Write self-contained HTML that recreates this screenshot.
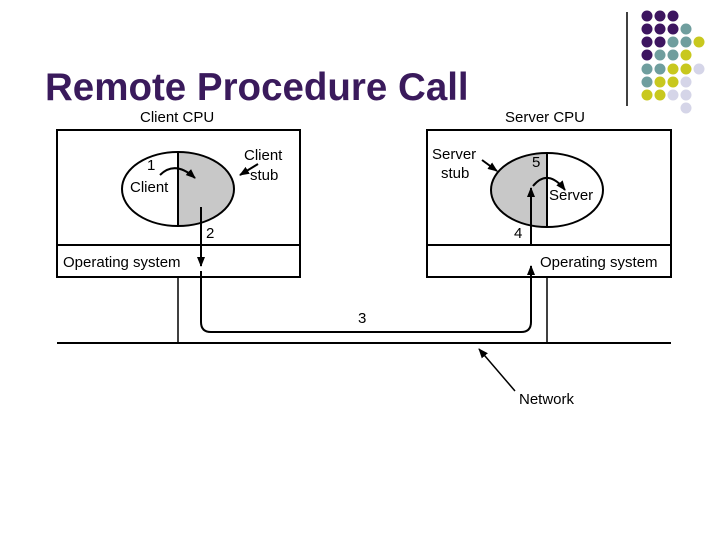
<!DOCTYPE html>
<html><head><style>
body{margin:0;width:720px;height:540px;background:#fff;overflow:hidden;position:relative;font-family:"Liberation Sans",sans-serif}
</style></head><body>
<svg width="720" height="540" style="position:absolute;left:0;top:0">
<defs><marker id="a" markerWidth="10" markerHeight="10" refX="9" refY="5" orient="auto" markerUnits="userSpaceOnUse"><path d="M0,1 L10,5 L0,9 Z" fill="#000"/></marker></defs>
<text x="45" y="100" font-size="38.5" font-weight="bold" fill="#3a1a5c" font-family="Liberation Sans">Remote Procedure Call</text>
<line x1="627" y1="12" x2="627" y2="106" stroke="#000" stroke-width="1.5"/>
<g>
<circle cx="647" cy="16" r="5.5" fill="#3d1560"/><circle cx="660" cy="16" r="5.5" fill="#3d1560"/><circle cx="673" cy="16" r="5.5" fill="#3d1560"/>
<circle cx="647" cy="29" r="5.5" fill="#3d1560"/><circle cx="660" cy="29" r="5.5" fill="#3d1560"/><circle cx="673" cy="29" r="5.5" fill="#3d1560"/><circle cx="686" cy="29" r="5.5" fill="#6f9e9e"/>
<circle cx="647" cy="42" r="5.5" fill="#3d1560"/><circle cx="660" cy="42" r="5.5" fill="#3d1560"/><circle cx="673" cy="42" r="5.5" fill="#6f9e9e"/><circle cx="686" cy="42" r="5.5" fill="#6f9e9e"/><circle cx="699" cy="42" r="5.5" fill="#c8c81e"/>
<circle cx="647" cy="55" r="5.5" fill="#3d1560"/><circle cx="660" cy="55" r="5.5" fill="#6f9e9e"/><circle cx="673" cy="55" r="5.5" fill="#6f9e9e"/><circle cx="686" cy="55" r="5.5" fill="#c8c81e"/>
<circle cx="647" cy="69" r="5.5" fill="#6f9e9e"/><circle cx="660" cy="69" r="5.5" fill="#6f9e9e"/><circle cx="673" cy="69" r="5.5" fill="#c8c81e"/><circle cx="686" cy="69" r="5.5" fill="#c8c81e"/><circle cx="699" cy="69" r="5.5" fill="#d5d5e8"/>
<circle cx="647" cy="82" r="5.5" fill="#6f9e9e"/><circle cx="660" cy="82" r="5.5" fill="#c8c81e"/><circle cx="673" cy="82" r="5.5" fill="#c8c81e"/><circle cx="686" cy="82" r="5.5" fill="#d5d5e8"/>
<circle cx="647" cy="95" r="5.5" fill="#c8c81e"/><circle cx="660" cy="95" r="5.5" fill="#c8c81e"/><circle cx="673" cy="95" r="5.5" fill="#d5d5e8"/><circle cx="686" cy="95" r="5.5" fill="#d5d5e8"/>
<circle cx="686" cy="108" r="5.5" fill="#d5d5e8"/>
</g>
<g fill="none" stroke="#000" stroke-width="2">
<rect x="57" y="130" width="243" height="147" fill="#fff"/>
<line x1="57" y1="245" x2="300" y2="245"/>
<rect x="427" y="130" width="244" height="147" fill="#fff"/>
<line x1="427" y1="245" x2="671" y2="245"/>
<line x1="57" y1="343" x2="671" y2="343"/>
<line x1="178" y1="277" x2="178" y2="343" stroke-width="1.5"/>
<line x1="547" y1="277" x2="547" y2="343" stroke-width="1.5"/>
</g>
<path d="M178,152 A56,37 0 0 1 178,226 Z" fill="#c8c8c8"/>
<ellipse cx="178" cy="189" rx="56" ry="37" fill="none" stroke="#000" stroke-width="2"/>
<line x1="178" y1="152" x2="178" y2="226" stroke="#000" stroke-width="2"/>
<path d="M547,153 A56,37 0 0 0 547,227 Z" fill="#c8c8c8"/>
<ellipse cx="547" cy="190" rx="56" ry="37" fill="none" stroke="#000" stroke-width="2"/>
<line x1="547" y1="153" x2="547" y2="227" stroke="#000" stroke-width="2"/>
<g fill="none" stroke="#000" stroke-width="2">
<line x1="201" y1="207" x2="201" y2="266" marker-end="url(#a)"/>
<path d="M201,271 V322 Q201,332 211,332 H521 Q531,332 531,322 V266" marker-end="url(#a)"/>
<line x1="531" y1="246" x2="531" y2="188" marker-end="url(#a)"/>
<path d="M160,175 Q175,160 195,178" marker-end="url(#a)"/>
<path d="M533,186 Q548,168 565,190" marker-end="url(#a)"/>
<line x1="258" y1="164" x2="240" y2="175" marker-end="url(#a)"/>
<line x1="482" y1="160" x2="497" y2="171" marker-end="url(#a)"/>
<line x1="515" y1="391" x2="479" y2="349" stroke-width="1.5" marker-end="url(#a)"/>
</g>
<g font-size="15" fill="#000">
<text x="140" y="122">Client CPU</text>
<text x="505" y="122">Server CPU</text>
<text x="147" y="170">1</text>
<text x="130" y="192">Client</text>
<text x="244" y="160">Client</text>
<text x="250" y="180">stub</text>
<text x="206" y="238">2</text>
<text x="63" y="267">Operating system</text>
<text x="432" y="159">Server</text>
<text x="441" y="178">stub</text>
<text x="532" y="167">5</text>
<text x="549" y="200">Server</text>
<text x="514" y="238">4</text>
<text x="540" y="267">Operating system</text>
<text x="358" y="323">3</text>
<text x="519" y="404">Network</text>
</g>
</svg>
</body></html>
